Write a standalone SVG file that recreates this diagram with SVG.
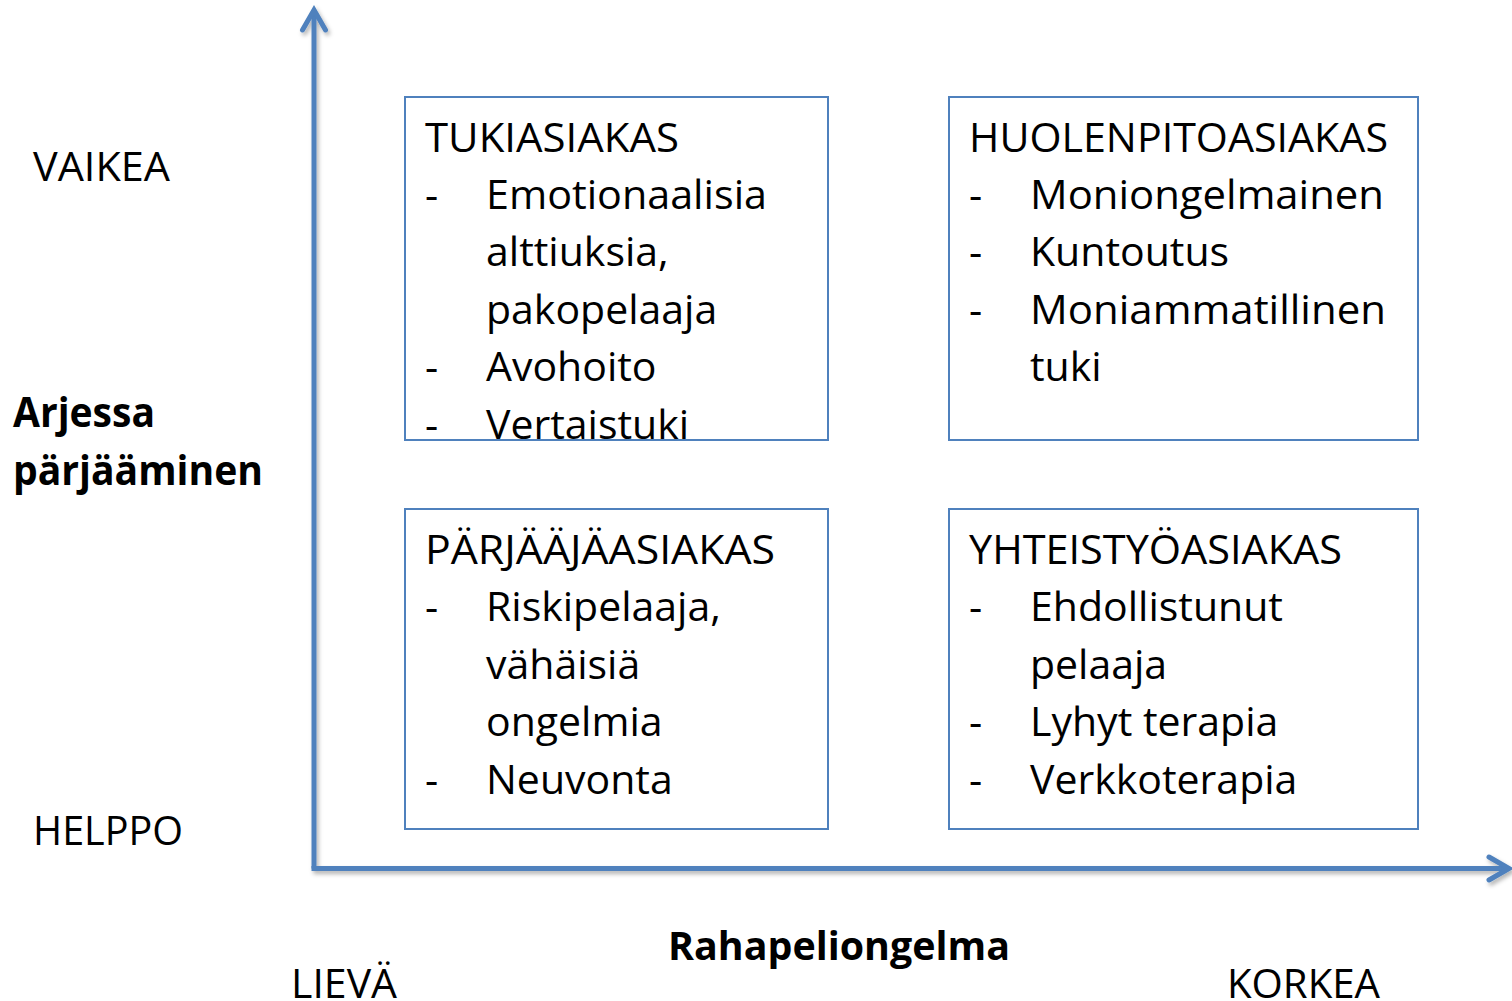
<svg xmlns="http://www.w3.org/2000/svg" width="1512" height="1001" viewBox="0 0 1512 1001">
<style>
.box{fill:#ffffff;stroke:#4f81bd;stroke-width:2}
.t{font-family:"Open Sans","Noto Sans",sans-serif;font-size:41px;fill:#000}
.b{font-family:"Open Sans","Noto Sans",sans-serif;font-weight:bold;fill:#000}
.axis{fill:none;stroke:#4f81bd;stroke-width:5}
</style>
<defs>
<filter id="sh" x="-10%" y="-10%" width="120%" height="120%">
<feDropShadow dx="2" dy="3" stdDeviation="2" flood-color="#000" flood-opacity="0.3"/>
</filter>
<marker id="arr" markerUnits="userSpaceOnUse" markerWidth="40" markerHeight="40" viewBox="-30 -20 40 40" refX="0" refY="0" orient="auto" overflow="visible">
<path d="M-20,-11.5 L0,0 L-20,11.5" fill="none" stroke="#4f81bd" stroke-width="5" stroke-linejoin="miter" stroke-linecap="round"/>
</marker>
</defs>
<rect width="1512" height="1001" fill="#ffffff"/>
<g id="connectors" filter="url(#sh)">
<path class="axis" d="M314,868.5 L314,10" marker-end="url(#arr)"/>
<path class="axis" d="M311.5,868.5 L1509,868.5" marker-end="url(#arr)"/>
</g>
<g id="axis-labels">
<text class="t" x="33" y="181" textLength="137" lengthAdjust="spacingAndGlyphs">VAIKEA</text>
<text class="t" x="33" y="845" textLength="150" lengthAdjust="spacingAndGlyphs">HELPPO</text>
<text class="b" x="13" y="427" font-size="42" textLength="142" lengthAdjust="spacingAndGlyphs">Arjessa</text>
<text class="b" x="13" y="485" font-size="42" textLength="250" lengthAdjust="spacingAndGlyphs">pärjääminen</text>
<text class="b" x="668" y="960" font-size="40" textLength="342" lengthAdjust="spacingAndGlyphs">Rahapeliongelma</text>
<text class="t" x="291" y="998" textLength="106" lengthAdjust="spacingAndGlyphs">LIEVÄ</text>
<text class="t" x="1227" y="998" textLength="153" lengthAdjust="spacingAndGlyphs">KORKEA</text>
</g>
<g id="tukiasiakas">
<rect class="box" x="405" y="97" width="423" height="343"/>
<text class="t" x="425" y="152" textLength="254" lengthAdjust="spacingAndGlyphs">TUKIASIAKAS</text>
<text class="t" x="425" y="209">-</text><text class="t" x="486" y="209" textLength="281" lengthAdjust="spacingAndGlyphs">Emotionaalisia</text>
<text class="t" x="486" y="266">alttiuksia,</text>
<text class="t" x="486" y="324">pakopelaaja</text>
<text class="t" x="425" y="381">-</text><text class="t" x="486" y="381">Avohoito</text>
<text class="t" x="425" y="439">-</text><text class="t" x="486" y="439">Vertaistuki</text>
<rect x="405" y="439" width="423" height="2" fill="#4f81bd"/>
<rect x="404" y="441" width="425" height="10" fill="#ffffff"/>
</g>
<g id="huolenpitoasiakas">
<rect class="box" x="949" y="97" width="469" height="343"/>
<text class="t" x="969" y="152" textLength="419" lengthAdjust="spacingAndGlyphs">HUOLENPITOASIAKAS</text>
<text class="t" x="969" y="209">-</text><text class="t" x="1030" y="209" textLength="354" lengthAdjust="spacingAndGlyphs">Moniongelmainen</text>
<text class="t" x="969" y="266">-</text><text class="t" x="1030" y="266">Kuntoutus</text>
<text class="t" x="969" y="324">-</text><text class="t" x="1030" y="324" textLength="356" lengthAdjust="spacingAndGlyphs">Moniammatillinen</text>
<text class="t" x="1030" y="381">tuki</text>
</g>
<g id="parjaajaasiakas">
<rect class="box" x="405" y="509" width="423" height="320"/>
<text class="t" x="425" y="564" textLength="350" lengthAdjust="spacingAndGlyphs">PÄRJÄÄJÄASIAKAS</text>
<text class="t" x="425" y="621">-</text><text class="t" x="486" y="621">Riskipelaaja,</text>
<text class="t" x="486" y="679">vähäisiä</text>
<text class="t" x="486" y="736">ongelmia</text>
<text class="t" x="425" y="794">-</text><text class="t" x="486" y="794">Neuvonta</text>
</g>
<g id="yhteistyoasiakas">
<rect class="box" x="949" y="509" width="469" height="320"/>
<text class="t" x="969" y="564" textLength="373" lengthAdjust="spacingAndGlyphs">YHTEISTYÖASIAKAS</text>
<text class="t" x="969" y="621">-</text><text class="t" x="1030" y="621">Ehdollistunut</text>
<text class="t" x="1030" y="679">pelaaja</text>
<text class="t" x="969" y="736">-</text><text class="t" x="1030" y="736">Lyhyt terapia</text>
<text class="t" x="969" y="794">-</text><text class="t" x="1030" y="794">Verkkoterapia</text>
</g>
</svg>
